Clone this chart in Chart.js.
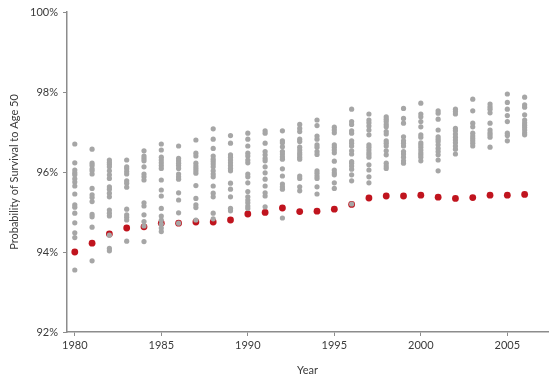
<!DOCTYPE html>
<html lang="en">
<head>
  <meta charset="UTF-8" />
  <title>Probability of Survival to Age 50</title>
  <script src="https://cdn.jsdelivr.net/npm/chart.js"></script>
  <style>
    html, body { margin: 0; padding: 0; background: #fff; }
    #wrap { width: 559px; height: 380px; }
  </style>
</head>
<body>
  <div id="wrap"><canvas id="chart"></canvas></div>

  <script>
    // years on the x axis
    const years = [1980, 1981, 1982, 1983, 1984, 1985, 1986, 1987, 1988, 1989, 1990, 1991, 1992,
                   1993, 1994, 1995, 1996, 1997, 1998, 1999, 2000, 2001, 2002, 2003, 2004, 2005, 2006];

    // red series (one value per year, %)
    const usValues = [94.0, 94.22, 94.45, 94.6, 94.63, 94.72, 94.72, 94.75, 94.75, 94.8, 94.95, 94.99, 95.1,
                      95.01, 95.02, 95.07, 95.19, 95.35, 95.4, 95.4, 95.42, 95.37, 95.34, 95.36, 95.42, 95.42, 95.44];

    // gray dots, the other countries, per year (%)
    const otherValues = [
      [96.7, 96.23, 96.05, 95.98, 95.93, 95.83, 95.75, 95.65, 95.45, 95.18, 95.12, 94.97, 94.73, 94.48, 94.36, 93.55],
      [96.57, 96.22, 96.16, 96.08, 96.03, 95.95, 95.59, 95.43, 95.36, 95.26, 94.94, 94.88, 94.62, 93.78],
      [96.3, 96.24, 96.19, 96.13, 96.03, 95.93, 95.84, 95.63, 95.57, 95.47, 95.38, 95.05, 94.97, 94.9, 94.42, 94.09, 94.03],
      [96.3, 96.13, 96.08, 96.01, 95.95, 95.78, 95.72, 95.62, 95.07, 94.93, 94.87, 94.8, 94.27],
      [96.53, 96.4, 96.34, 96.28, 96.13, 95.95, 95.88, 95.8, 95.23, 95.15, 94.93, 94.76, 94.65, 94.26],
      [96.7, 96.55, 96.37, 96.3, 96.23, 96.16, 96.09, 95.8, 95.55, 95.4, 95.09, 94.9, 94.8, 94.7, 94.6, 94.51],
      [96.65, 96.34, 96.28, 96.22, 96.16, 96.09, 95.95, 95.88, 95.82, 95.48, 95.3, 94.98, 94.72],
      [96.8, 96.47, 96.4, 96.22, 96.15, 96.09, 96.03, 95.97, 95.66, 95.34, 95.18, 95.11, 94.8],
      [97.08, 96.82, 96.59, 96.4, 96.32, 96.26, 96.2, 96.13, 96.03, 95.95, 95.88, 95.65, 95.47, 95.38, 94.97, 94.83],
      [96.91, 96.72, 96.43, 96.37, 96.3, 96.23, 96.16, 96.09, 96.03, 95.72, 95.57, 95.38, 95.09, 95.03],
      [96.97, 96.82, 96.65, 96.47, 96.4, 96.3, 96.23, 95.95, 95.88, 95.73, 95.51, 95.38, 95.3, 95.23, 95.15, 95.09],
      [97.03, 96.97, 96.72, 96.51, 96.43, 96.34, 96.28, 96.13, 95.98, 95.82, 95.65, 95.48, 95.4, 95.13],
      [97.03, 96.78, 96.73, 96.63, 96.51, 96.45, 96.38, 96.32, 96.08, 95.9, 95.7, 95.63, 95.57, 94.85],
      [97.19, 97.09, 97.01, 96.82, 96.76, 96.62, 96.55, 96.48, 96.43, 96.37, 96.32, 95.9, 95.84, 95.63, 95.53],
      [97.3, 97.16, 96.9, 96.82, 96.68, 96.62, 96.51, 96.44, 96.03, 95.97, 95.9, 95.84, 95.63, 95.45],
      [97.12, 97.05, 96.98, 96.68, 96.62, 96.55, 96.48, 96.27, 96.05, 95.98, 95.93, 95.73, 95.59],
      [97.57, 97.26, 97.19, 97.03, 96.97, 96.78, 96.72, 96.65, 96.53, 96.45, 96.26, 96.22, 96.15, 96.07, 95.93, 95.78, 95.2],
      [97.45, 97.3, 97.23, 97.15, 97.05, 96.93, 96.68, 96.62, 96.55, 96.48, 96.43, 96.37, 96.18, 96.05, 95.88, 95.73],
      [97.38, 97.32, 97.26, 97.19, 97.13, 97.01, 96.95, 96.78, 96.72, 96.65, 96.53, 96.43, 96.22, 96.15, 96.09],
      [97.59, 97.34, 97.22, 96.88, 96.78, 96.72, 96.65, 96.51, 96.45, 96.37, 96.28, 96.22],
      [97.72, 97.45, 97.38, 97.26, 97.13, 96.93, 96.87, 96.73, 96.68, 96.62, 96.55, 96.48, 96.43, 96.37, 96.28],
      [97.53, 97.47, 97.32, 97.05, 96.88, 96.82, 96.76, 96.68, 96.59, 96.51, 96.43, 96.3, 96.03],
      [97.57, 97.51, 97.45, 97.09, 97.03, 96.95, 96.87, 96.8, 96.73, 96.65, 96.57, 96.45],
      [97.82, 97.53, 97.22, 97.13, 96.97, 96.9, 96.84, 96.78, 96.72, 96.65],
      [97.7, 97.63, 97.57, 97.48, 97.22, 97.05, 96.98, 96.93, 96.87, 96.62],
      [97.95, 97.74, 97.57, 97.41, 97.26, 96.97, 96.91, 96.78],
      [97.87, 97.68, 97.62, 97.43, 97.3, 97.23, 97.17, 97.11, 97.05, 96.98, 96.93]
    ];

    const xTicks = [1980, 1985, 1990, 1995, 2000, 2005];
    const yTicks = [92, 94, 96, 98, 100];

    const grayPoints = [];
    years.forEach((yr, i) => otherValues[i].forEach(v => grayPoints.push({ x: yr, y: v })));
    const redPoints = years.map((yr, i) => ({ x: yr, y: usValues[i] }));

    const axisColor = "#8c8c8c";
    const textColor = "#3a3a3a";
    const font = { family: "Lato", size: 11 };

    new Chart(document.getElementById("chart"), {
      type: "scatter",
      data: {
        datasets: [
          {
            label: "Other countries",
            data: grayPoints,
            backgroundColor: "#a6a6a6",
            borderWidth: 0,
            pointRadius: 2.6
          },
          {
            label: "United States",
            data: redPoints,
            backgroundColor: "#c0141e",
            borderWidth: 0,
            pointRadius: 3.4
          }
        ]
      },
      options: {
        responsive: true,
        maintainAspectRatio: false,
        animation: false,
        devicePixelRatio: 1,
        layout: { padding: { top: 12, right: 11, left: 0, bottom: 0 } },
        plugins: { legend: { display: false }, tooltip: { enabled: false } },
        scales: {
          x: {
            type: "linear",
            min: 1979.55,
            max: 2007.35,
            afterBuildTicks: s => { s.ticks = xTicks.map(v => ({ value: v })); },
            afterFit: s => { s.height = 48; },
            border: { display: true, color: axisColor, width: 1.5 },
            grid: { display: true, drawOnChartArea: false, drawTicks: true, tickLength: 4, color: axisColor, lineWidth: 1 },
            ticks: { color: textColor, font: font, padding: 3, maxRotation: 0, callback: v => String(v) },
            title: { display: true, text: "Year", color: textColor, font: font, padding: { top: 1, bottom: 3 } }
          },
          y: {
            min: 92,
            max: 100,
            afterBuildTicks: s => { s.ticks = yTicks.map(v => ({ value: v })); },
            afterFit: s => { s.width = 67; },
            border: { display: true, color: axisColor, width: 1.5 },
            grid: { display: true, drawOnChartArea: false, drawTicks: true, tickLength: 4, color: axisColor, lineWidth: 1 },
            ticks: { color: textColor, font: font, padding: 5, callback: v => v + "%" },
            title: { display: true, text: "Probability of Survival to Age 50", color: textColor, font: font, padding: { top: 8, bottom: 0 } }
          }
        }
      }
    });
  </script>
</body>
</html>
